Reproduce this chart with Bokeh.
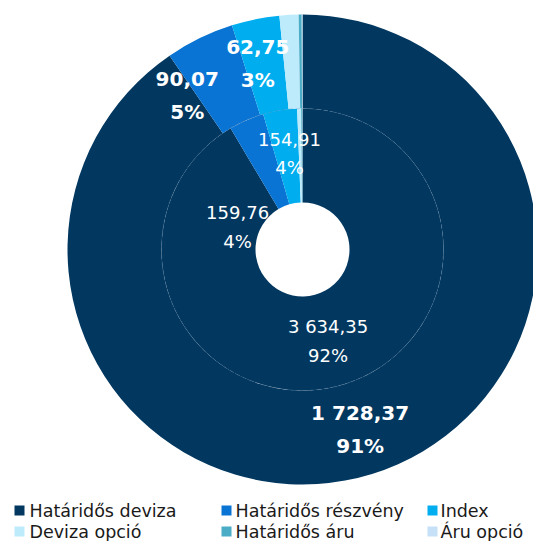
import numpy as np
from bokeh.plotting import figure
from bokeh.models import Range1d, ColumnDataSource
from bokeh.core.properties import value
from bokeh.embed import file_html
from bokeh.resources import INLINE

# ---- data ----
categories = ["Határidős deviza", "Határidős részvény", "Index",
              "Deviza opció", "Határidős áru", "Áru opció"]
outer_values = [1728.37, 90.07, 62.75, 25.0, 4.0, 1.0]
inner_values = [3634.35, 159.76, 154.91, 18.0, 5.0, 1.0]
outer_pct_labels = ["91%", "5%", "3%"]
inner_pct_labels = ["92%", "4%", "4%"]
colors = ["#023860", "#0A74D4", "#00AEEF", "#BDEBFB", "#4BACC6", "#C5E0F7"]

# ---- layout ----
W, H = 533, 541


def dy(pic_y):            # picture y (down) -> data y (up)
    return H - pic_y


CX, CY = 302, dy(249)
R_HOLE, R_MID, R_OUT = 47, 141, 235
FONT = value("DejaVu Sans")

p = figure(width=W, height=H, x_range=Range1d(0, W), y_range=Range1d(0, H),
           output_backend="svg", toolbar_location=None, min_border=0)
p.axis.visible = False
p.grid.visible = False
p.outline_line_color = None
p.background_fill_color = "white"
p.border_fill_color = "white"


def ring(vals, r_in, r_out):
    vals = np.asarray(vals, dtype=float)
    c = np.concatenate([[0.0], np.cumsum(vals)]) / vals.sum()
    start = np.pi / 2 - 2 * np.pi * c[:-1]
    end = np.pi / 2 - 2 * np.pi * c[1:]
    src = ColumnDataSource(dict(start=start, end=end, color=colors[:len(vals)]))
    p.annular_wedge(x=CX, y=CY, inner_radius=r_in, outer_radius=r_out,
                    start_angle="start", end_angle="end", direction="clock",
                    fill_color="color", line_color=None, source=src)
    return (c[:-1] + c[1:]) / 2 * 2 * np.pi


def fmt(v):
    s = f"{v:,.2f}"
    return s.replace(",", "X").replace(".", ",").replace("X", " ")


inner_mids = ring(inner_values, R_HOLE, R_MID)
outer_mids = ring(outer_values, R_MID, R_OUT)

# faint separator between the rings
p.arc(x=CX, y=CY, radius=R_MID, start_angle=0, end_angle=2 * np.pi,
      line_color="#6f8fb0", line_alpha=0.4, line_width=0.8, line_dash="4 3")


def labels(mids, vals, pcts, r, nudges, size, style, gap):
    xs1, ys1, xs2, ys2, t1, t2 = [], [], [], [], [], []
    for i, (ndx, ndy) in enumerate(nudges):
        th = mids[i]
        x = CX + r * np.sin(th) + ndx
        y = CY + r * np.cos(th) - ndy
        xs1.append(x); ys1.append(y + gap / 2); t1.append(fmt(vals[i]))
        xs2.append(x); ys2.append(y - gap / 2); t2.append(pcts[i])
    for xs, ys, tt in ((xs1, ys1, t1), (xs2, ys2, t2)):
        p.text(x=xs, y=ys, text=tt, text_font=FONT, text_font_size=size,
               text_font_style=style, text_color="white",
               text_align="center", text_baseline="middle")


labels(outer_mids, outer_values, outer_pct_labels, (R_MID + R_OUT) / 2,
       [(2, 0), (-33, 15), (-7, -1.6)], "20px", "bold", 33)
labels(inner_mids, inner_values, inner_pct_labels, (R_HOLE + R_MID) / 2,
       [(0.7, 1), (-27.5, 63.6), (2, -3)], "18px", "normal", 28.5)

# ---- legend ----
col_sq = [19, 226, 432]
col_tx = [29, 235, 440]
row_y = [510, 531]
lx, ly, tx, ty, lc = [], [], [], [], []
for i, name in enumerate(categories):
    r, cidx = divmod(i, 3)
    lx.append(col_sq[cidx]); ly.append(dy(row_y[r])); lc.append(colors[i])
    tx.append(col_tx[cidx]); ty.append(dy(row_y[r]))
p.rect(x=lx, y=ly, width=10, height=10, fill_color=lc, line_color=None)
p.text(x=tx, y=ty, text=categories, text_font=FONT, text_font_size="17.5px",
       text_color="#1a1a1a", text_align="left", text_baseline="middle")

open("out.html", "w").write(file_html(p, INLINE))
